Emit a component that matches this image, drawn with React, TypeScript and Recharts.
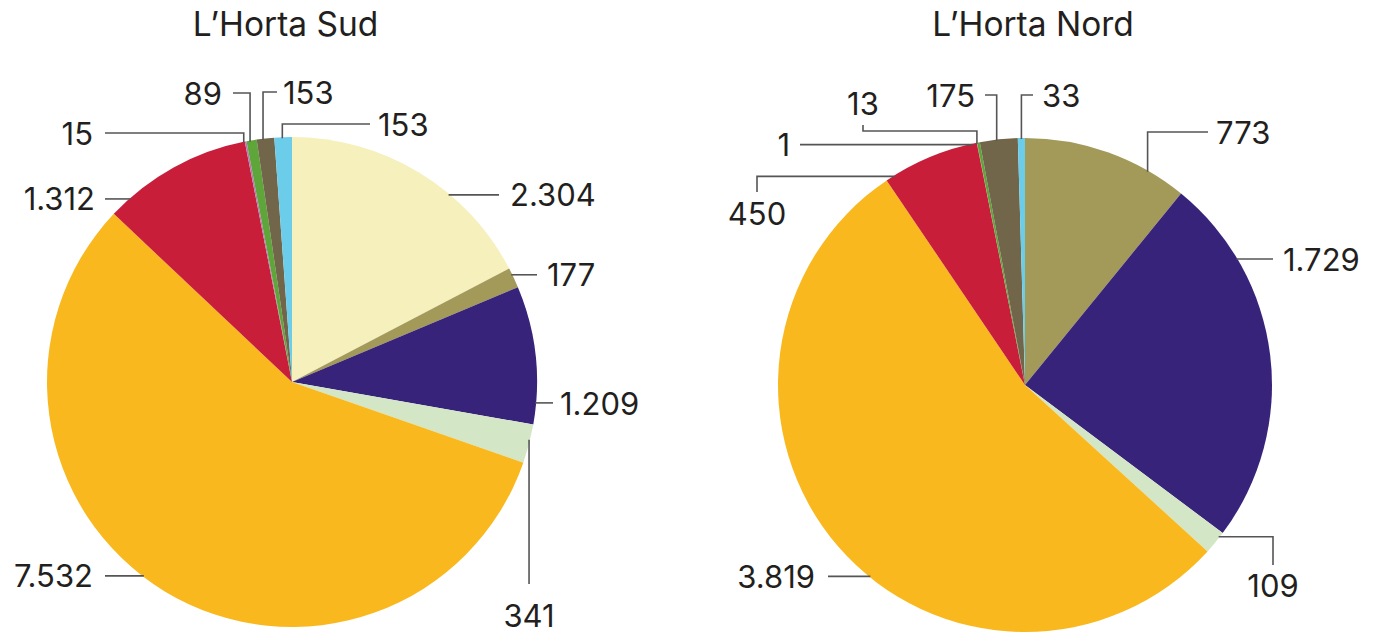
import React from 'react';
import { PieChart, Pie, Cell } from 'recharts';

// Categories (10) with their colours
const categories = ['c1', 'c2', 'c3', 'c4', 'c5', 'c6', 'c7', 'c8', 'c9', 'c10'];
const colors = ['#F5F0BC', '#A39A5A', '#37237A', '#D3E6C6', '#F9B81E', '#C81E3A', '#B57AB5', '#5EA53A', '#71654A', '#6CCDEA'];

// L'Horta Sud values (all categories)
const sudValues = [2304, 177, 1209, 341, 7532, 1312, 15, 89, 153, 153];
// L'Horta Nord values (category c1 absent)
const nordCategories = categories.slice(1);
const nordValues = [773, 1729, 109, 3819, 450, 1, 13, 175, 33];

const titles = ["L\u2019Horta Sud", "L\u2019Horta Nord"];

const sudData = categories.map((c, i) => ({ name: c, value: sudValues[i], color: colors[i] }));
const nordData = nordCategories.map((c, i) => ({ name: c, value: nordValues[i], color: colors[i + 1] }));

// Label leader layouts (relative to the pie centre)
type Step = { x?: number; y?: number };
type LabelLayout = { da: number; steps: Step[]; tdx: number; tdy: number; anchor: 'start' | 'middle' | 'end' };

const sudLayout: LabelLayout[] = [
  { da: 8.7, steps: [{ x: 207 }], tdx: 11, tdy: 0, anchor: 'start' },
  { da: -0.9, steps: [{ x: 245 }], tdx: 10, tdy: 0, anchor: 'start' },
  { da: 11.3, steps: [{ x: 261 }], tdx: 7, tdy: 1, anchor: 'start' },
  { da: -0.9, steps: [{ y: 202 }], tdx: 0, tdy: 31, anchor: 'middle' },
  { da: 6.1, steps: [{ x: -187 }], tdx: -12, tdy: 0, anchor: 'end' },
  { da: -12.5, steps: [{ x: -187 }], tdx: -10, tdy: 0, anchor: 'end' },
  { da: -0.5, steps: [{ y: -249 }, { x: -187 }], tdx: -12, tdy: 0, anchor: 'end' },
  { da: -0.4, steps: [{ y: -289 }, { x: -59 }], tdx: -11, tdy: 0, anchor: 'end' },
  { da: -0.6, steps: [{ y: -290 }, { x: -15 }], tdx: 6, tdy: 0, anchor: 'start' },
  { da: -0.2, steps: [{ y: -258 }, { x: 78 }], tdx: 8, tdy: 0, anchor: 'start' },
];

const nordLayout: LabelLayout[] = [
  { da: 10.3, steps: [{ y: -253 }, { x: 183 }], tdx: 8, tdy: 0, anchor: 'start' },
  { da: -23.8, steps: [{ x: 248 }], tdx: 10, tdy: 0, anchor: 'start' },
  { da: -1.5, steps: [{ x: 248 }, { y: 180 }], tdx: 0, tdy: 20, anchor: 'middle' },
  { da: -10.2, steps: [{ x: -197 }], tdx: -13, tdy: 0, anchor: 'end' },
  { da: -9.35, steps: [{ x: -268 }, { y: -193 }], tdx: 0, tdy: 21, anchor: 'middle' },
  { da: -1, steps: [{ x: -225 }], tdx: -10, tdy: 0, anchor: 'end' },
  { da: -0.4, steps: [{ y: -254 }, { x: -162 }, { y: -260 }], tdx: 0, tdy: -22, anchor: 'middle' },
  { da: -0.5, steps: [{ y: -290 }, { x: -40 }], tdx: -10, tdy: 0, anchor: 'end' },
  { da: 0, steps: [{ y: -290 }, { x: 8 }], tdx: 9, tdy: 0, anchor: 'start' },
];

const FONT = 'Inter, "DejaVu Sans", sans-serif';
const TEXT_COLOR = '#231f20';

function fmt(v: number): string {
  return String(v).replace(/\B(?=(\d{3})+(?!\d))/g, '.');
}

function makeLabel(layout: LabelLayout[]) {
  return (props: any) => {
    const { cx, cy, midAngle, outerRadius, index, value } = props;
    const L = layout[index];
    if (!L) return null;
    const theta = ((90 - midAngle + L.da) * Math.PI) / 180;
    const R = outerRadius - 1;
    let px = cx + R * Math.sin(theta);
    let py = cy - R * Math.cos(theta);
    const pts: [number, number][] = [[px, py]];
    for (const s of L.steps) {
      if (s.x !== undefined) px = cx + s.x;
      if (s.y !== undefined) py = cy + s.y;
      pts.push([px, py]);
    }
    const d = pts.map((p, i) => `${i === 0 ? 'M' : 'L'}${p[0]},${p[1]}`).join(' ');
    return (
      <g key={`lbl-${index}`}>
        <path d={d} stroke="#555" strokeWidth={1.6} fill="none" />
        <text
          x={px + L.tdx}
          y={py + L.tdy}
          textAnchor={L.anchor}
          dominantBaseline="central"
          fontFamily={FONT}
          fontSize={31}
          fill={TEXT_COLOR}
        >
          {fmt(value)}
        </text>
      </g>
    );
  };
}

const titleStyle: React.CSSProperties = {
  position: 'absolute',
  top: 5,
  width: 400,
  textAlign: 'center',
  fontFamily: FONT,
  fontSize: 33.5,
  color: TEXT_COLOR,
  lineHeight: '38px',
};

export default function App() {
  return (
    <div style={{ position: 'absolute', left: 0, top: 0, width: 1381, height: 634, background: '#fff' }}>
      <div style={{ ...titleStyle, left: 285.5 - 200 }}>{titles[0]}</div>
      <div style={{ ...titleStyle, left: 1033 - 200 }}>{titles[1]}</div>
      <div style={{ position: 'absolute', left: 0, top: 0 }}>
        <PieChart width={1381} height={634} margin={{ top: 0, right: 0, bottom: 0, left: 0 }}>
          <Pie
            data={sudData}
            dataKey="value"
            nameKey="name"
            cx={292}
            cy={382}
            outerRadius={245}
            startAngle={90}
            endAngle={-270}
            stroke="none"
            isAnimationActive={false}
            labelLine={false}
            label={makeLabel(sudLayout)}
          >
            {sudData.map((d) => (
              <Cell key={d.name} fill={d.color} stroke="none" />
            ))}
          </Pie>
          <Pie
            data={nordData}
            dataKey="value"
            nameKey="name"
            cx={1025}
            cy={385}
            outerRadius={247}
            startAngle={90}
            endAngle={-270}
            stroke="none"
            isAnimationActive={false}
            labelLine={false}
            label={makeLabel(nordLayout)}
          >
            {nordData.map((d) => (
              <Cell key={d.name} fill={d.color} stroke="none" />
            ))}
          </Pie>
        </PieChart>
      </div>
    </div>
  );
}
